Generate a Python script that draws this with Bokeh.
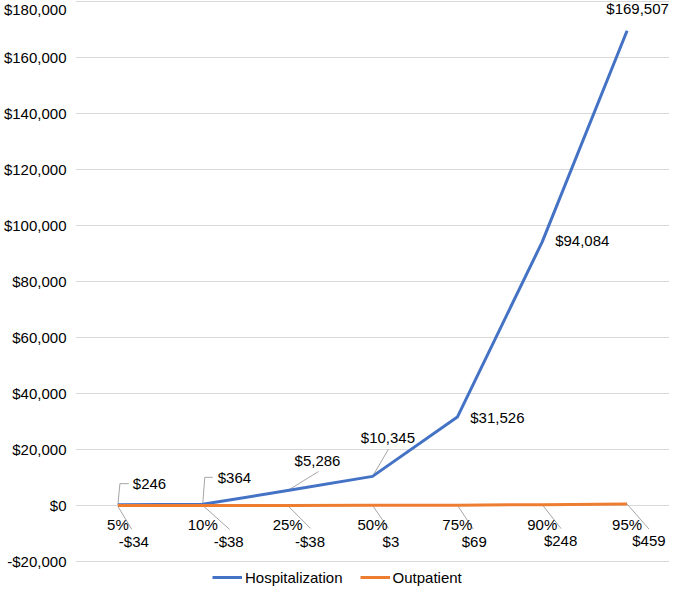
from bokeh.plotting import figure
from bokeh.models import (Range1d, FixedTicker, NumeralTickFormatter, ColumnDataSource,
                          LabelSet, Legend, LegendItem)
from bokeh.core.properties import value
from bokeh.embed import file_html
from bokeh.resources import INLINE

# ---- data ----
categories = ["5%", "10%", "25%", "50%", "75%", "90%", "95%"]
hospitalization = [246, 364, 5286, 10345, 31526, 94084, 169507]
outpatient = [-34, -38, -38, 3, 69, 248, 459]
y_ticks = [-20000, 0, 20000, 40000, 60000, 80000, 100000, 120000, 140000, 160000, 180000]

# ---- style / layout ----
FONT = "Liberation Sans"
FS = "15px"
TXT = "#000000"
BLUE = "#4472C4"
ORANGE = "#ED7D31"
LEADER = "#a6a6a6"
W, H = 669, 586
BL = 72
FRAME_W, FRAME_H = W - BL, H
PLOT_PX = 560                      # pixels between the -20000 and 180000 gridlines
Y_TOP = 180300
UY = (y_ticks[-1] - y_ticks[0]) / PLOT_PX   # data units per pixel (y)
Y_BOTTOM = Y_TOP - FRAME_H * UY             # frame extends below to host the legend
PX_X = FRAME_W / len(categories)            # pixels per category unit

# label placement in pixels relative to point (dy positive = down)
hosp_layout = [
    dict(tx=15, ty=-21, align="left", leader=[(0, 0), (2, -21), (11, -21)]),
    dict(tx=15, ty=-27, align="left", leader=[(0, -1), (2, -27), (10, -27)]),
    dict(tx=30, ty=-30, align="center", leader=[(0, 0), (31, -19)]),
    dict(tx=15.5, ty=-39, align="center", leader=[(0, 0), (16, -27)]),
    dict(tx=13, ty=0, align="left", leader=None),
    dict(tx=13, ty=-1, align="left", leader=None),
    dict(tx=42, ty=-22, align="right", leader=None),
]
out_layout = [
    dict(tx=16, ty=36, align="center", leader=[(0, 1), (14, 24)]),
    dict(tx=26, ty=36, align="center", leader=[(0, 0), (27, 24)]),
    dict(tx=22.5, ty=36, align="center", leader=[(0, 0), (23, 23)]),
    dict(tx=18.5, ty=36, align="center", leader=[(0, 0), (16, 23)]),
    dict(tx=17, ty=36, align="center", leader=[(0, 0), (16, 24)]),
    dict(tx=18.5, ty=36, align="center", leader=[(0, 0), (19, 24)]),
    dict(tx=22, ty=36, align="center", leader=[(0, 0), (22, 25)]),
]
XLABEL_DY = 19


def fmt(v):
    return ("-$" if v < 0 else "$") + f"{abs(v):,}"


xs_idx = list(range(len(categories)))

p = figure(width=W, height=H, title=None,
           min_border_left=BL, min_border_right=0, min_border_top=0, min_border_bottom=0,
           x_range=Range1d(-0.5, len(categories) - 0.5), y_range=Range1d(Y_BOTTOM, Y_TOP),
           output_backend="svg", toolbar_location=None, x_axis_location=None)
p.outline_line_color = None
p.background_fill_color = "white"
p.border_fill_color = "white"
p.xgrid.visible = False
p.ygrid.ticker = FixedTicker(ticks=y_ticks)
p.ygrid.grid_line_color = "#d9d9d9"
p.ygrid.grid_line_width = 1

ya = p.yaxis[0]
ya.ticker = FixedTicker(ticks=y_ticks)
ya.formatter = NumeralTickFormatter(format="$0,0")
ya.axis_line_color = None
ya.major_tick_line_color = None
ya.minor_tick_line_color = None
ya.major_tick_out = 0
ya.major_tick_in = 0
ya.minor_tick_out = 0
ya.major_label_standoff = 9
ya.major_label_text_font = FONT
ya.major_label_text_font_size = FS
ya.major_label_text_color = TXT


def text_set(src):
    return LabelSet(x="x", y="y", text="t", source=ColumnDataSource(src),
                    text_baseline="middle",
                    text_font=value(FONT), text_font_size=value(FS), text_color=TXT)


def add_labels(values, layout):
    lx, ly = [], []
    rows = {"left": dict(x=[], y=[], t=[]), "center": dict(x=[], y=[], t=[]), "right": dict(x=[], y=[], t=[])}
    for i, (v, lay) in enumerate(zip(values, layout)):
        if lay["leader"]:
            lx.append([i + dx / PX_X for dx, dy in lay["leader"]])
            ly.append([v - dy * UY for dx, dy in lay["leader"]])
        r = rows[lay["align"]]
        r["x"].append(i + lay["tx"] / PX_X)
        r["y"].append(v - lay["ty"] * UY)
        r["t"].append(fmt(v))
    if lx:
        p.multi_line(xs=lx, ys=ly, line_color=LEADER, line_width=1)
    for align, r in rows.items():
        if r["x"]:
            ls = text_set(r)
            ls.text_align = align
            p.add_layout(ls)


add_labels(hospitalization, hosp_layout)
add_labels(outpatient, out_layout)

r_h = p.line(xs_idx, hospitalization, line_color=BLUE, line_width=3, line_join="round")
r_o = p.line(xs_idx, outpatient, line_color=ORANGE, line_width=3, line_join="round")

# category labels at the zero line
cat_ls = text_set(dict(x=xs_idx, y=[0 - XLABEL_DY * UY] * len(categories), t=categories))
cat_ls.text_align = "center"
p.add_layout(cat_ls)

legend = Legend(items=[LegendItem(label="Hospitalization", renderers=[r_h]),
                       LegendItem(label="Outpatient", renderers=[r_o])],
                location=(137, 0), orientation="horizontal",
                padding=0, margin=0, spacing=17, label_standoff=3,
                glyph_width=30, glyph_height=18, label_height=18,
                label_text_font=FONT, label_text_font_size=FS, label_text_color=TXT,
                background_fill_alpha=0, border_line_color=None)
p.add_layout(legend, "center")

open("out.html", "w").write(file_html(p, INLINE))
